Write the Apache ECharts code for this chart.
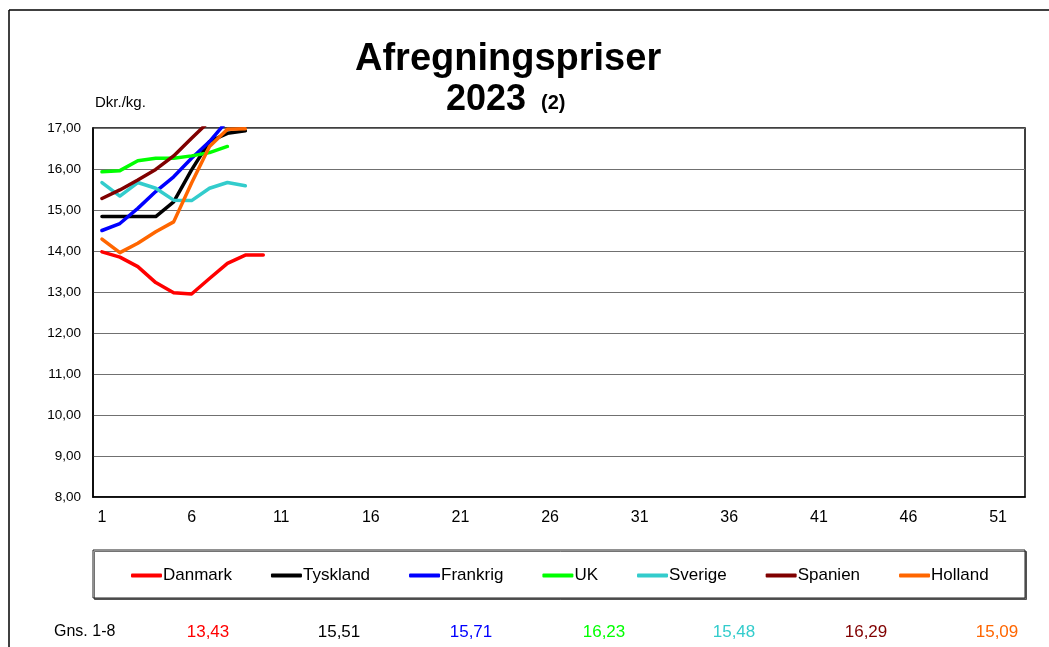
<!DOCTYPE html>
<html>
<head>
<meta charset="utf-8">
<script src="https://cdn.jsdelivr.net/npm/echarts@6/dist/echarts.min.js"></script>
<style>html,body{margin:0;padding:0;background:#fff}#c{width:1049px;height:647px}</style>
</head>
<body>
<div id="c"></div>
<script>
const weeks = Array.from({length: 52}, (_, i) => String(i + 1));
const seriesNames = ['Danmark', 'Tyskland', 'Frankrig', 'UK', 'Sverige', 'Spanien', 'Holland'];
const colors = ['#FF0000', '#000000', '#0000FF', '#00FF00', '#33CCCC', '#800000', '#FF6600'];
const danmark  = [13.98, 13.85, 13.62, 13.23, 12.98, 12.95, 13.33, 13.70, 13.90, 13.90];
const tyskland = [14.84, 14.84, 14.84, 14.84, 15.20, 15.98, 16.67, 16.87, 16.93];
const frankrig = [14.50, 14.67, 15.04, 15.45, 15.81, 16.26, 16.67, 17.18];
const uk       = [15.93, 15.96, 16.20, 16.26, 16.26, 16.32, 16.40, 16.55];
const sverige  = [15.67, 15.34, 15.67, 15.53, 15.24, 15.23, 15.53, 15.67, 15.59];
const spanien  = [15.28, 15.49, 15.73, 15.99, 16.32, 16.75, 17.17, 17.55];
const holland  = [14.29, 13.96, 14.19, 14.47, 14.71, 15.66, 16.55, 16.97, 16.98];
const averages = ['13,43', '15,51', '15,71', '16,23', '15,48', '16,29', '15,09'];
const avgX = [208, 339, 471, 604, 734, 866, 997];
const allData = [danmark, tyskland, frankrig, uk, sverige, spanien, holland];

const chart = echarts.init(document.getElementById('c'));
const FONT = 'Liberation Sans, Arial, sans-serif';

const graphics = [
  {type: 'line', shape: {x1: 9, y1: 10, x2: 9, y2: 647}, style: {stroke: '#000', lineWidth: 1.5}},
  {type: 'line', shape: {x1: 9, y1: 10, x2: 1049, y2: 10}, style: {stroke: '#000', lineWidth: 1.5}},
  {type: 'text', x: 355, y: 60, style: {text: 'Afregningspriser', font: 'bold 38px ' + FONT, fill: '#000', verticalAlign: 'middle'}},
  {type: 'text', x: 446, y: 100, style: {text: '2023', font: 'bold 36px ' + FONT, fill: '#000', verticalAlign: 'middle'}},
  {type: 'text', x: 541, y: 103, style: {text: '(2)', font: 'bold 20px ' + FONT, fill: '#000', verticalAlign: 'middle'}},
  {type: 'text', x: 95, y: 103, style: {text: 'Dkr./kg.', font: '15px ' + FONT, fill: '#000', verticalAlign: 'middle'}},
  {type: 'rect', shape: {x: 93, y: 550, width: 932, height: 48}, style: {fill: '#fff', stroke: '#222', lineWidth: 1, shadowColor: 'rgba(0,0,0,0.55)', shadowOffsetX: 1.5, shadowOffsetY: 1.5, shadowBlur: 0}, z: -1},
  {type: 'text', x: 54, y: 632, style: {text: 'Gns. 1-8', font: '16px ' + FONT, fill: '#000', verticalAlign: 'middle'}}
];
averages.forEach((v, i) => {
  graphics.push({type: 'text', x: avgX[i], y: 632, style: {text: v, font: '17px ' + FONT, fill: colors[i], align: 'center', verticalAlign: 'middle'}});
});

chart.setOption({
  animation: false,
  backgroundColor: '#fff',
  color: colors,
  grid: {left: 93, right: 24, top: 128, bottom: 150, show: true, borderColor: '#000', borderWidth: 1.5, containLabel: false},
  legend: {
    data: seriesNames,
    left: 131, top: 567, padding: 0,
    icon: 'roundRect', itemWidth: 31, itemHeight: 4, itemGap: 39,
    textStyle: {fontFamily: FONT, fontSize: 17, color: '#000', padding: [0, 0, 0, -4]}
  },
  xAxis: {
    type: 'category', data: weeks, boundaryGap: true,
    axisLine: {lineStyle: {color: '#000', width: 1.5}},
    axisTick: {inside: true, length: 5, interval: 0, lineStyle: {color: '#000'}},
    axisLabel: {interval: 4, fontFamily: FONT, fontSize: 16, color: '#000', margin: 13},
    splitLine: {show: false}
  },
  yAxis: {
    type: 'value', min: 8, max: 17, interval: 1,
    axisLine: {show: true, lineStyle: {color: '#000', width: 1.5}},
    axisTick: {show: false},
    axisLabel: {fontFamily: FONT, fontSize: 13.5, color: '#000', margin: 12, formatter: v => v.toFixed(2).replace('.', ',')},
    splitLine: {lineStyle: {color: '#707070', width: 1}}
  },
  series: seriesNames.map((n, i) => ({
    name: n, type: 'line', data: allData[i], showSymbol: false, symbol: 'none',
    lineStyle: {width: 3.5, color: colors[i], cap: 'round', join: 'round'},
    itemStyle: {color: colors[i]}, clip: true
  })),
  graphic: graphics
});
</script>
</body>
</html>
